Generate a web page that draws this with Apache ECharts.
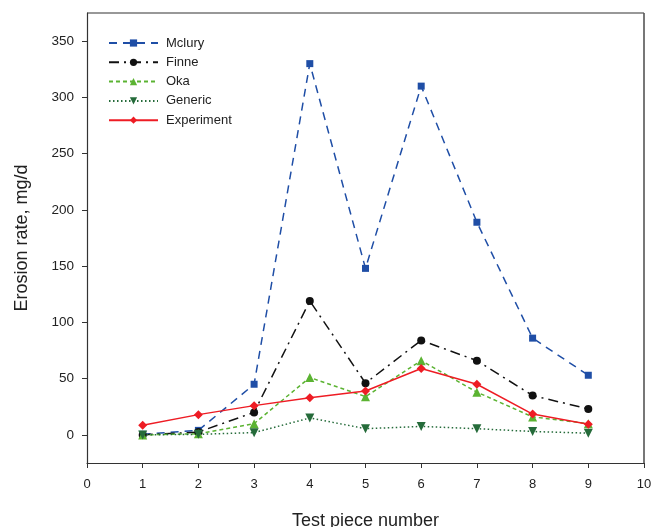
<!DOCTYPE html>
<html>
<head>
<meta charset="utf-8">
<script src="https://cdn.jsdelivr.net/npm/echarts@6/dist/echarts.min.js"></script>
<style>
  html, body { margin: 0; padding: 0; background: #fff; }
  #chart { width: 654px; height: 527px; }
</style>
</head>
<body>
<div id="chart"></div>
<script>
// Test pieces 1..9
const pieces = [1, 2, 3, 4, 5, 6, 7, 8, 9];

// Erosion rate (mg/d) by model and measured
const mclury     = [0.5, 4, 45, 330, 148, 310, 189, 86, 53];
const finne      = [0, 2.5, 20, 119, 46, 84, 66, 35, 23];
const oka        = [0, 1, 10, 51, 34, 66, 38, 16, 10];
const generic    = [0, 0.5, 2, 15, 5.5, 7.5, 5.5, 3, 1.5];
const experiment = [8.5, 18, 26, 33, 39, 59, 45, 18.5, 9.5];

const yTicks = [0, 50, 100, 150, 200, 250, 300, 350];
const xTicks = [0, 1, 2, 3, 4, 5, 6, 7, 8, 9, 10];

const pairs = vals => pieces.map((p, i) => [p, vals[i]]);

const font = 'Liberation Sans, Arial, sans-serif';

function series(name, vals, color, dash, symbol, size, width) {
  return {
    name: name,
    type: 'line',
    data: pairs(vals),
    symbol: symbol,
    symbolSize: size,
    itemStyle: { color: color },
    lineStyle: { color: color, width: width, type: dash },
    emphasis: { disabled: true },
    animation: false
  };
}

const chart = echarts.init(document.getElementById('chart'));
chart.setOption({
  backgroundColor: '#ffffff',
  grid: { left: 87, right: 10, top: 13, bottom: 64, show: false, outerBoundsMode: 'none', containLabel: false },
  legend: {
    orient: 'vertical',
    left: 103,
    top: 31,
    itemWidth: 49,
    itemHeight: 9,
    itemGap: 5.3,
    textStyle: { fontFamily: font, fontSize: 13, lineHeight: 14, color: '#222', padding: [0, 0, 0, 3] },
    data: ['Mclury', 'Finne', 'Oka', 'Generic', 'Experiment']
  },
  xAxis: {
    type: 'value',
    min: 0,
    max: 10,
    interval: 1,
    name: 'Test piece number',
    nameLocation: 'middle',
    nameGap: 49,
    nameTextStyle: { fontFamily: font, fontSize: 18, color: '#222' },
    axisLine: { show: true, onZero: false, lineStyle: { color: '#333', width: 1.2 } },
    axisTick: { show: true, inside: false, length: 5, lineStyle: { color: '#333' }, customValues: xTicks },
    axisLabel: { fontFamily: font, fontSize: 13, color: '#222', margin: 15, customValues: xTicks },
    splitLine: { show: false }
  },
  yAxis: {
    type: 'value',
    min: -25,
    max: 375,
    name: 'Erosion rate, mg/d',
    nameLocation: 'middle',
    nameGap: 56,
    nameRotate: 90,
    nameTextStyle: { fontFamily: font, fontSize: 18, color: '#222' },
    axisLine: { show: true, onZero: false, lineStyle: { color: '#333', width: 1.2 } },
    axisTick: { show: true, inside: false, length: 5, lineStyle: { color: '#333' }, customValues: yTicks },
    axisLabel: { fontFamily: font, fontSize: 13.5, color: '#222', margin: 13, customValues: yTicks },
    splitLine: { show: false }
  },
  graphic: [],
  series: [
    series('Mclury', mclury, '#1f4ea6', [8, 6], 'rect', 7, 1.5),
    series('Finne', finne, '#111111', [10, 5, 2, 5], 'circle', 8, 1.5),
    series('Oka', oka, '#5bb332', [4, 3], 'triangle', 9, 1.5),
    series('Generic', generic, '#256b3a', [1.5, 2.5], 'path://M0,0 L10,0 L5,9 Z', 9, 1.5),
    series('Experiment', experiment, '#ee1c24', 'solid', 'diamond', 9, 1.5)
  ]
});

// Frame: top and right borders of the plot area
const g = chart.getModel().getComponent('grid').coordinateSystem.getRect();
chart.setOption({
  graphic: [
    { type: 'line', shape: { x1: g.x, y1: g.y, x2: g.x + g.width, y2: g.y }, style: { stroke: '#333', lineWidth: 1.2 }, silent: true },
    { type: 'line', shape: { x1: g.x + g.width, y1: g.y, x2: g.x + g.width, y2: g.y + g.height }, style: { stroke: '#555', lineWidth: 1.6 }, silent: true }
  ]
});
</script>
</body>
</html>
